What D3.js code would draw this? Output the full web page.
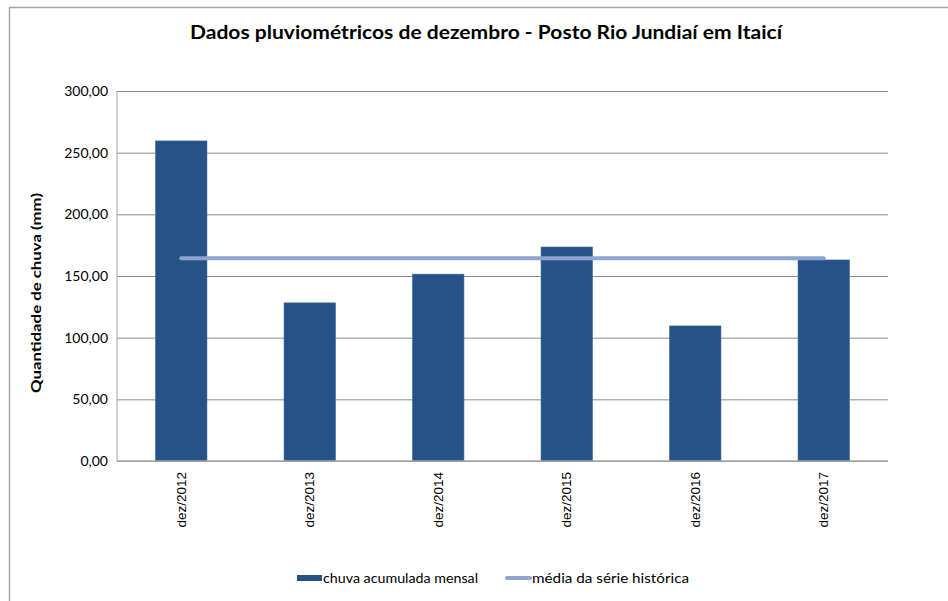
<!DOCTYPE html>
<html>
<head>
<meta charset="utf-8">
<script src="https://cdn.jsdelivr.net/npm/d3@7"></script>
<style>
  body { margin: 0; background: #fff; }
  svg { display: block; }
</style>
</head>
<body>
<div id="chart"></div>
<script>
// Data
const categories = ["dez/2012", "dez/2013", "dez/2014", "dez/2015", "dez/2016", "dez/2017"];
const chuvaMensal = [259.5, 128.2, 151.5, 173.5, 109.5, 163.0];
const mediaHistorica = [164.3, 164.3, 164.3, 164.3, 164.3, 164.3];
const yTicks = [0, 50, 100, 150, 200, 250, 300];

const fullWidth = 948;
const fullHeight = 601;
const margin = { top: 91, right: 60, bottom: 140, left: 117 };
const width = 888 - margin.left;
const height = 461 - margin.top;

const svg = d3.select("#chart")
  .append("svg")
  .attr("width", fullWidth)
  .attr("height", fullHeight);

// Outer frame (only top and left visible)
svg.append("path")
  .attr("d", "M9.5,601 V7.5 H948")
  .attr("fill", "none")
  .attr("stroke", "#a6a6a6")
  .attr("stroke-width", 1.5);

const g = svg.append("g")
  .attr("transform", `translate(${margin.left},${margin.top})`);

// Scales
const xScale = d3.scaleBand()
  .domain(categories)
  .range([0, width])
  .paddingInner(0.6)
  .paddingOuter(0.3);

const yScale = d3.scaleLinear()
  .domain([0, 300])
  .range([height, 0]);

const fmt = v => d3.format(".2f")(v).replace(".", ",");

// Grid lines
g.append("g")
  .call(d3.axisLeft(yScale).tickValues(yTicks).tickSize(-width).tickFormat(""))
  .call(s => s.select(".domain").remove())
  .selectAll("line")
  .attr("stroke", "#8c8c8c")
  .attr("stroke-width", 1);

// Y axis line
g.append("line")
  .attr("x1", 0).attr("x2", 0)
  .attr("y1", 0).attr("y2", height)
  .attr("stroke", "#a6a6a6");

// Y tick labels
g.append("g")
  .call(d3.axisLeft(yScale).tickValues(yTicks).tickSize(0).tickPadding(9).tickFormat(fmt))
  .call(s => s.select(".domain").remove())
  .selectAll("text")
  .attr("font-family", "Lato, 'Open Sans', sans-serif")
  .attr("font-size", "14px")
  .attr("fill", "#000");

// Bars
g.selectAll(".bar")
  .data(chuvaMensal)
  .enter()
  .append("rect")
  .attr("class", "bar")
  .attr("x", (d, i) => xScale(categories[i]))
  .attr("y", d => yScale(d))
  .attr("width", xScale.bandwidth())
  .attr("height", d => height - yScale(d))
  .attr("fill", "#265387")
  .attr("stroke", "#3d669a")
  .attr("stroke-width", 0.6);

// Baseline
g.append("line")
  .attr("x1", 0).attr("x2", width)
  .attr("y1", height).attr("y2", height)
  .attr("stroke", "#a6a6a6")
  .attr("stroke-width", 1.5);

// X tick labels (rotated)
const xAxis = g.append("g")
  .attr("transform", `translate(0,${height})`)
  .call(d3.axisBottom(xScale).tickSize(0).tickPadding(0));
xAxis.select(".domain").remove();
xAxis.selectAll("text")
  .attr("font-family", "'Liberation Sans', Arial, sans-serif")
  .attr("font-size", "13.5px")
  .attr("fill", "#000")
  .attr("transform", "rotate(-90)")
  .attr("text-anchor", "end")
  .attr("dx", "-11px")
  .attr("dy", "0.35em")
  .attr("y", 0);

// Mean line
const line = d3.line()
  .x((d, i) => xScale(categories[i]) + xScale.bandwidth() / 2)
  .y(d => yScale(d));

g.append("path")
  .datum(mediaHistorica)
  .attr("fill", "none")
  .attr("stroke", "#8ea6cf")
  .attr("stroke-width", 4)
  .attr("stroke-linecap", "round")
  .attr("d", line);

// Title
svg.append("text")
  .attr("x", 486)
  .attr("y", 39)
  .attr("text-anchor", "middle")
  .attr("font-family", "Lato, 'Open Sans', sans-serif")
  .attr("font-weight", "bold")
  .attr("font-size", "19px")
  .attr("textLength", 592)
  .attr("lengthAdjust", "spacingAndGlyphs")
  .text("Dados pluviométricos de dezembro - Posto Rio Jundiaí em Itaicí");

// Y axis label
svg.append("text")
  .attr("transform", "rotate(-90)")
  .attr("x", -293)
  .attr("y", 41)
  .attr("text-anchor", "middle")
  .attr("font-family", "Lato, 'Open Sans', sans-serif")
  .attr("font-weight", "bold")
  .attr("font-size", "14px")
  .attr("textLength", 200)
  .attr("lengthAdjust", "spacingAndGlyphs")
  .text("Quantidade de chuva (mm)");

// Legend
const legend = svg.append("g")
  .attr("font-family", "Lato, 'Open Sans', sans-serif")
  .attr("font-size", "14px");

legend.append("rect")
  .attr("x", 297).attr("y", 575)
  .attr("width", 25).attr("height", 6)
  .attr("fill", "#265387");
legend.append("text")
  .attr("x", 323).attr("y", 583)
  .attr("textLength", 155)
  .attr("lengthAdjust", "spacingAndGlyphs")
  .text("chuva acumulada mensal");

legend.append("line")
  .attr("x1", 507).attr("x2", 530)
  .attr("y1", 578).attr("y2", 578)
  .attr("stroke", "#8ea6cf")
  .attr("stroke-width", 4)
  .attr("stroke-linecap", "round");
legend.append("text")
  .attr("x", 532).attr("y", 583)
  .attr("textLength", 157)
  .attr("lengthAdjust", "spacingAndGlyphs")
  .text("média da série histórica");
</script>
</body>
</html>
